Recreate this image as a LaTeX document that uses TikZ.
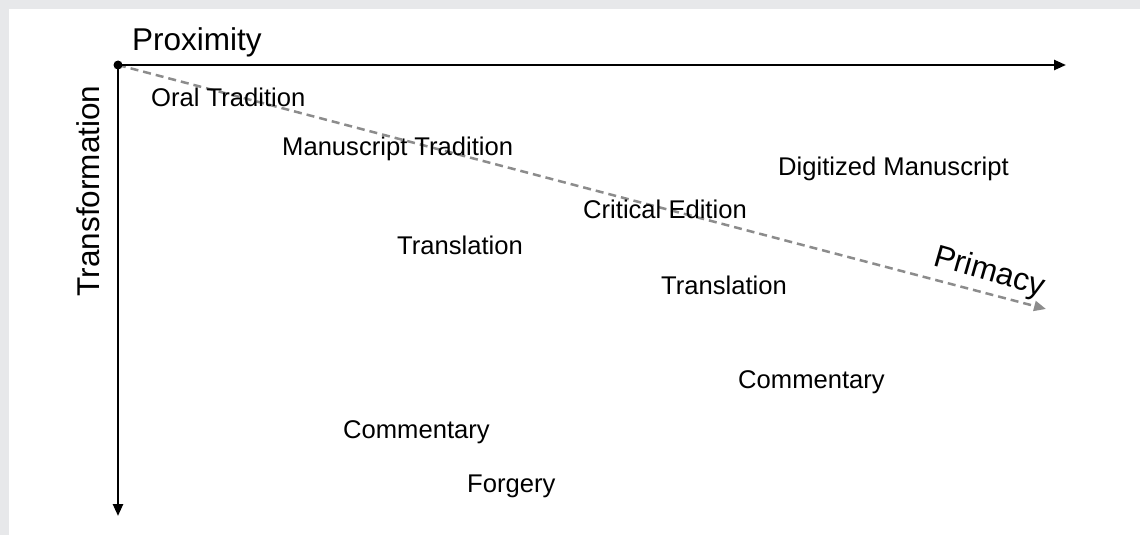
\documentclass[tikz,border=0pt]{standalone}
\usepackage{fontspec}
\setmainfont{Liberation Sans}
\usetikzlibrary{arrows.meta}
\definecolor{bordergray}{HTML}{E7E8EA}
\definecolor{dashgray}{HTML}{8C8C8C}
\tikzset{
  axis/.style={line width=2.5pt,black,-{Triangle[length=12pt,width=10pt]}},
  primline/.style={line width=2.5pt,dashgray,dash pattern=on 8pt off 5pt,-{Triangle[length=12pt,width=10pt]}},
  item/.style={anchor=base west,inner sep=0pt,font=\fontsize{25.6}{30}\selectfont},
  axlabel/.style={inner sep=0pt,font=\fontsize{31.5}{36}\selectfont}
}
\begin{document}
\begin{tikzpicture}[x=1pt,y=-1pt]
\useasboundingbox (0,0) rectangle (1140,535);
\fill[bordergray] (0,0) rectangle (1140,535);
\fill[white] (9,9) rectangle (1140,535);
\coordinate (O) at (118,65);
\coordinate (X) at (1066,65);
\coordinate (Y) at (118,516);
\coordinate (P) at (1046,309);
\draw[primline] (O) -- (P);
\draw[axis] (O) -- (X);
\draw[axis] (O) -- (Y);
\fill (O) circle (4.5pt);
\node[axlabel,anchor=base west] (prox) at (132,51) {Proximity};
\node[axlabel,rotate=90] (trans) at (88,191) {Transformation};
\node[axlabel,anchor=base west,rotate=-16] (prim) at (932,265) {Primacy};
\node[item] (oral) at (151,106) {Oral Tradition};
\node[item] (manu) at (282,155) {Manuscript Tradition};
\node[item] (digi) at (778,175) {Digitized Manuscript};
\node[item] (crit) at (583,218) {Critical Edition};
\node[item] (tr1) at (397,254) {Translation};
\node[item] (tr2) at (661,294) {Translation};
\node[item] (com1) at (738,388) {Commentary};
\node[item] (com2) at (343,438) {Commentary};
\node[item] (forg) at (467,492) {Forgery};
\end{tikzpicture}
\end{document}
